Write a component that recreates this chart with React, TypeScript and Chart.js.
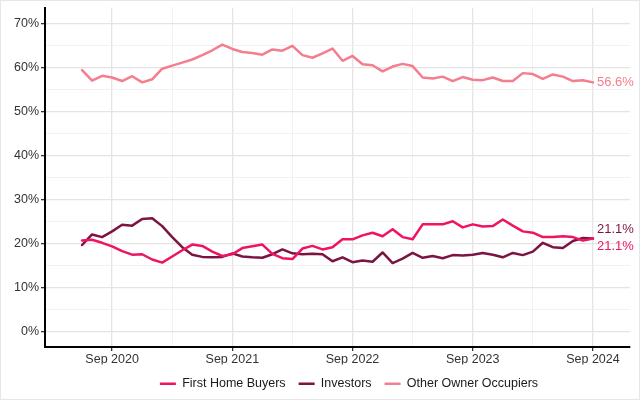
import React, { useEffect, useRef } from "react";
import { Chart, registerables } from "chart.js";

Chart.register(...registerables);

const categories = [
  "Jun 2020", "Jul 2020", "Aug 2020", "Sep 2020", "Oct 2020", "Nov 2020", "Dec 2020",
  "Jan 2021", "Feb 2021", "Mar 2021", "Apr 2021", "May 2021", "Jun 2021", "Jul 2021", "Aug 2021", "Sep 2021", "Oct 2021", "Nov 2021", "Dec 2021",
  "Jan 2022", "Feb 2022", "Mar 2022", "Apr 2022", "May 2022", "Jun 2022", "Jul 2022", "Aug 2022", "Sep 2022", "Oct 2022", "Nov 2022", "Dec 2022",
  "Jan 2023", "Feb 2023", "Mar 2023", "Apr 2023", "May 2023", "Jun 2023", "Jul 2023", "Aug 2023", "Sep 2023", "Oct 2023", "Nov 2023", "Dec 2023",
  "Jan 2024", "Feb 2024", "Mar 2024", "Apr 2024", "May 2024", "Jun 2024", "Jul 2024", "Aug 2024", "Sep 2024",
];

const firstHomeBuyers = [
  20.6, 20.8, 20.1, 19.3, 18.2, 17.4, 17.5, 16.3, 15.6, 17.0, 18.4, 19.7, 19.4, 18.1, 17.1, 17.5, 18.9, 19.3, 19.7,
  17.6, 16.6, 16.4, 18.8, 19.4, 18.6, 19.1, 20.9, 20.9, 21.8, 22.4, 21.6, 23.2, 21.4, 20.9, 24.3, 24.3, 24.3, 25.0,
  23.6, 24.3, 23.8, 23.9, 25.4, 24.0, 22.7, 22.4, 21.4, 21.4, 21.6, 21.4, 20.6, 21.1,
];

const investors = [
  19.6, 22.0, 21.4, 22.7, 24.2, 24.0, 25.5, 25.7, 23.9, 21.4, 19.1, 17.4, 16.9, 16.8, 16.9, 17.7, 17.0, 16.8, 16.7,
  17.5, 18.6, 17.7, 17.5, 17.6, 17.5, 15.9, 16.8, 15.7, 16.1, 15.8, 17.9, 15.5, 16.5, 17.8, 16.7, 17.1, 16.6, 17.3,
  17.2, 17.4, 17.8, 17.4, 16.8, 17.8, 17.3, 18.1, 20.1, 19.1, 18.9, 20.5, 21.2, 21.1,
];

const otherOwnerOccupiers = [
  59.4, 57.0, 58.1, 57.7, 56.9, 58.0, 56.6, 57.3, 59.7, 60.4, 61.1, 61.8, 62.8, 63.9, 65.2, 64.2, 63.5, 63.3, 62.9,
  64.1, 63.8, 64.9, 62.8, 62.2, 63.2, 64.3, 61.5, 62.6, 60.7, 60.5, 59.1, 60.2, 60.8, 60.3, 57.7, 57.5, 57.9, 56.9,
  57.8, 57.2, 57.1, 57.7, 56.9, 56.9, 58.7, 58.5, 57.4, 58.4, 57.9, 56.9, 57.1, 56.6,
];

const seriesNames = ["First Home Buyers", "Investors", "Other Owner Occupiers"];
const xTickLabels = ["Sep 2020", "Sep 2021", "Sep 2022", "Sep 2023", "Sep 2024"];
const yTickValues = [0, 10, 20, 30, 40, 50, 60, 70];

const COLORS = ["#ef1463", "#7c1442", "#f47e8d"];
const LABEL_OFFSETS = [8, -9, 0];
const FONT = "'Liberation Sans', Arial, sans-serif";
const LEGEND_SHIFT = 34;

const endLabels = {
  id: "endLabels",
  afterDatasetsDraw(chart: any) {
    const ctx = chart.ctx;
    ctx.save();
    ctx.font = `13px ${FONT}`;
    ctx.textBaseline = "middle";
    ctx.textAlign = "left";
    chart.data.datasets.forEach((ds: any, i: number) => {
      const meta = chart.getDatasetMeta(i);
      const last = meta.data[meta.data.length - 1];
      const v = ds.data[ds.data.length - 1].y;
      ctx.fillStyle = ds.borderColor;
      ctx.fillText(`${v.toFixed(1)}%`, last.x + 4, last.y + (ds.labelOffset || 0));
    });
    ctx.restore();
  },
};

const shiftLegend = {
  id: "shiftLegend",
  afterLayout(chart: any) {
    const l = chart.legend;
    if (l) {
      l.left += LEGEND_SHIFT;
      l.right += LEGEND_SHIFT;
    }
  },
};

export default function App() {
  const ref = useRef<HTMLCanvasElement>(null);
  useEffect(() => {
    const toPts = (arr: number[]) => arr.map((v, i) => ({ x: i, y: v }));
    const series = [firstHomeBuyers, investors, otherOwnerOccupiers];
    const majorX = xTickLabels.map((l) => categories.indexOf(l));
    const minorX: number[] = [];
    for (let k = 0; k < majorX.length - 1; k++) minorX.push((majorX[k] + majorX[k + 1]) / 2);
    const allX = [...majorX, ...minorX].sort((a, b) => a - b);
    const minorY: number[] = [];
    for (let k = 0; k < yTickValues.length - 1; k++) minorY.push((yTickValues[k] + yTickValues[k + 1]) / 2);
    const allY = [...yTickValues, ...minorY].sort((a, b) => a - b);

    const chart = new Chart(ref.current!, {
      type: "line",
      data: {
        datasets: series.map((arr, i) => ({
          label: seriesNames[i],
          data: toPts(arr),
          borderColor: COLORS[i],
          backgroundColor: COLORS[i],
          borderWidth: 2.5,
          pointRadius: 0,
          tension: 0,
          borderJoinStyle: "round",
          borderCapStyle: "round",
          labelOffset: LABEL_OFFSETS[i],
        })) as any,
      },
      options: {
        animation: false,
        responsive: false,
        layout: { padding: { left: 0, right: 10, top: 6, bottom: 0 } },
        plugins: {
          tooltip: { enabled: false },
          legend: {
            position: "bottom",
            labels: {
              usePointStyle: true,
              pointStyle: "line",
              pointStyleWidth: 16,
              padding: 13,
              color: "#1a1a1a",
              font: { family: FONT, size: 12.5 },
            },
          },
        },
        scales: {
          x: {
            type: "linear",
            min: -3.7,
            max: 54.7,
            afterBuildTicks: (axis: any) => {
              axis.ticks = allX.map((v) => ({ value: v }));
            },
            afterFit: (axis: any) => {
              axis.height = 17.5;
            },
            ticks: {
              autoSkip: false,
              maxRotation: 0,
              padding: 1,
              color: "#333",
              font: { family: FONT, size: 12.5 },
              callback: (v: any) => {
                const idx = majorX.indexOf(Number(v));
                return idx >= 0 ? xTickLabels[idx] : "";
              },
            },
            grid: {
              color: (c: any) => (majorX.includes(c.tick?.value) ? "#e4e4e4" : "#efefef"),
              lineWidth: (c: any) => (majorX.includes(c.tick?.value) ? 1.3 : 0.8),
              tickColor: (c: any) => (majorX.includes(c.tick?.value) ? "#333" : "rgba(0,0,0,0)"),
              tickLength: 4,
              drawTicks: true,
            },
            border: { display: true, color: "#000", width: 2 },
          },
          y: {
            type: "linear",
            min: -3.6,
            max: 73.6,
            afterBuildTicks: (axis: any) => {
              axis.ticks = allY.map((v) => ({ value: v }));
            },
            afterFit: (axis: any) => {
              axis.width = 45;
            },
            ticks: {
              autoSkip: false,
              padding: 2,
              color: "#333",
              font: { family: FONT, size: 12.5, lineHeight: 0.9 },
              callback: (v: any) => (yTickValues.includes(Number(v)) ? `${v}%` : ""),
            },
            grid: {
              color: (c: any) => (yTickValues.includes(c.tick?.value) ? "#e4e4e4" : "#efefef"),
              lineWidth: (c: any) => (yTickValues.includes(c.tick?.value) ? 1.3 : 0.8),
              tickColor: (c: any) => (yTickValues.includes(c.tick?.value) ? "#333" : "rgba(0,0,0,0)"),
              tickLength: 4,
              drawTicks: true,
            },
            border: { display: true, color: "#000", width: 2 },
          },
        },
      },
      plugins: [endLabels, shiftLegend],
    } as any);
    return () => chart.destroy();
  }, []);

  return (
    <div style={{ position: "fixed", left: 0, top: 0, width: 640, height: 400, background: "#fff" }}>
      <canvas ref={ref} width={640} height={400} style={{ display: "block" }} />
      <div
        style={{
          position: "absolute",
          left: 0,
          top: 0,
          width: 640,
          height: 400,
          boxSizing: "border-box",
          border: "1px solid #e4e7eb",
          pointerEvents: "none",
        }}
      />
    </div>
  );
}
